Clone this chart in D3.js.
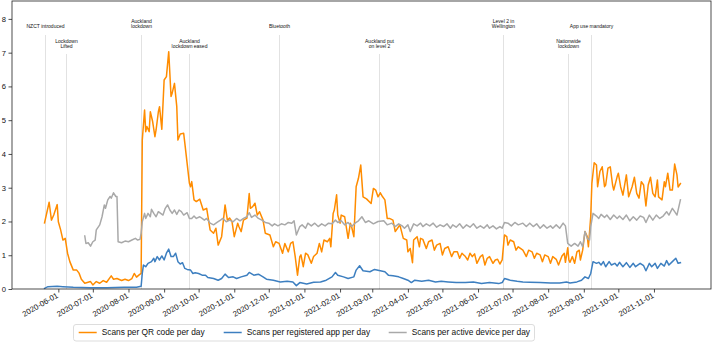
<!DOCTYPE html>
<html>
<head>
<meta charset="utf-8">
<script src="https://cdn.jsdelivr.net/npm/d3@7"></script>
<style>
  html, body { margin: 0; padding: 0; background: #fff; }
  svg { display: block; font-family: "Liberation Sans", Arial, Helvetica, sans-serif; }
</style>
</head>
<body>
<svg id="chart" width="714" height="342"></svg>
<script>
// days counted from 2020-05-20 (NZ COVID Tracer launch)
const startDate = Date.UTC(2020, 4, 20);

const qrCode = [[0,1.96],[4,2.57],[6,2.04],[8,2.19],[11,2.50],[12,1.99],[14,1.75],[16,1.45],[18,1.50],[20,1.06],[22,0.81],[25,0.56],[28,0.56],[30,0.47],[32,0.29],[35,0.17],[40,0.22],[42,0.12],[45,0.22],[48,0.17],[51,0.25],[54,0.20],[58,0.39],[60,0.29],[63,0.31],[67,0.25],[70,0.29],[73,0.25],[76,0.31],[78,0.46],[80,0.35],[82,0.41],[84,0.46],[85,4.41],[87,5.30],[88,4.66],[89,4.81],[91,4.66],[92,5.25],[94,4.96],[96,4.51],[97,4.71],[99,5.25],[100,5.40],[102,4.73],[104,6.19],[106,6.29],[108,7.03],[110,5.70],[111,5.80],[113,6.09],[115,5.40],[116,4.41],[118,4.59],[121,4.61],[122,4.32],[124,3.72],[126,3.13],[127,3.03],[128,3.18],[130,2.64],[132,2.59],[135,2.66],[138,2.34],[141,2.39],[144,1.75],[147,1.65],[149,1.80],[151,1.30],[154,1.55],[157,2.49],[159,2.04],[161,2.10],[163,2.00],[165,1.55],[168,1.95],[169,1.85],[171,1.70],[173,2.04],[176,2.10],[178,2.83],[179,2.39],[181,2.44],[183,2.54],[185,2.19],[187,2.29],[190,2.04],[192,1.65],[196,1.60],[199,1.25],[201,1.40],[204,1.35],[207,1.06],[209,1.35],[212,1.10],[214,1.35],[216,1.40],[218,0.96],[220,0.41],[222,0.96],[223,1.01],[225,0.66],[227,1.06],[229,1.01],[232,0.76],[234,0.96],[237,1.06],[239,1.35],[241,1.10],[243,1.45],[246,1.40],[248,1.50],[249,1.25],[251,2.24],[252,2.34],[254,2.79],[255,2.19],[257,1.95],[258,2.19],[261,2.14],[264,1.50],[266,1.95],[267,1.85],[269,1.55],[271,3.03],[273,3.28],[275,3.67],[277,2.73],[280,2.67],[284,2.53],[286,2.98],[288,2.93],[290,2.73],[292,2.85],[294,2.73],[296,2.64],[298,2.09],[300,2.09],[303,2.04],[305,1.70],[307,1.80],[309,1.90],[312,1.50],[315,1.45],[316,1.10],[318,1.20],[320,0.78],[321,1.45],[324,1.55],[326,1.25],[327,1.50],[329,1.47],[332,1.20],[334,1.40],[337,1.45],[339,1.15],[341,1.30],[344,1.35],[346,1.01],[348,1.20],[351,1.25],[354,0.96],[356,1.10],[359,1.10],[361,0.91],[363,1.06],[366,0.96],[368,0.86],[370,1.06],[372,0.96],[374,1.04],[376,0.76],[379,0.96],[381,1.01],[383,0.71],[385,0.91],[387,0.96],[390,0.76],[392,0.86],[394,0.88],[396,0.74],[398,0.86],[400,1.60],[402,1.55],[403,1.30],[405,1.45],[408,1.40],[410,1.15],[412,1.25],[416,1.15],[419,0.96],[421,1.15],[424,1.10],[426,0.91],[428,1.06],[431,1.01],[433,0.81],[435,1.01],[438,0.96],[440,0.76],[442,0.96],[445,0.88],[447,0.71],[450,0.98],[452,1.06],[453,0.79],[455,1.22],[456,0.86],[457,0.79],[459,0.96],[461,0.76],[463,1.10],[465,1.15],[466,0.86],[468,1.15],[470,1.70],[472,1.55],[473,1.25],[475,2.14],[476,3.13],[478,3.74],[480,3.67],[481,3.03],[483,3.48],[485,3.62],[487,3.03],[488,3.08],[490,3.58],[492,3.62],[494,3.08],[495,2.93],[498,3.33],[499,3.43],[501,3.03],[503,2.78],[506,3.38],[508,2.73],[511,3.03],[513,3.31],[515,2.83],[517,2.69],[519,3.18],[521,3.08],[523,2.46],[525,3.08],[527,3.31],[529,2.83],[531,2.73],[533,3.23],[534,2.73],[537,2.64],[539,3.18],[540,3.03],[542,3.43],[544,2.93],[546,2.93],[548,3.70],[550,3.38],[551,3.02],[553,3.12]];

const registeredApp = [[0,0.02],[3,0.07],[11,0.08],[16,0.07],[25,0.05],[40,0.04],[54,0.04],[69,0.05],[80,0.05],[84,0.08],[85,0.46],[86,0.71],[88,0.66],[90,0.76],[93,0.81],[95,0.91],[96,0.81],[98,0.96],[100,0.86],[102,0.98],[104,0.86],[106,1.06],[108,1.18],[110,0.96],[112,0.96],[114,1.06],[116,0.81],[118,0.74],[120,0.78],[122,0.61],[124,0.58],[127,0.56],[129,0.46],[131,0.48],[134,0.46],[137,0.41],[140,0.41],[142,0.34],[147,0.31],[151,0.26],[154,0.31],[157,0.44],[160,0.34],[164,0.36],[167,0.31],[171,0.36],[176,0.41],[178,0.49],[182,0.41],[186,0.44],[190,0.36],[193,0.29],[199,0.26],[205,0.21],[211,0.23],[216,0.21],[219,0.10],[222,0.19],[228,0.15],[234,0.20],[240,0.21],[245,0.26],[250,0.36],[253,0.49],[255,0.41],[260,0.36],[264,0.31],[269,0.36],[271,0.56],[274,0.69],[277,0.54],[283,0.51],[287,0.58],[292,0.54],[296,0.51],[299,0.41],[303,0.39],[308,0.36],[312,0.31],[316,0.26],[319,0.19],[322,0.26],[328,0.23],[334,0.26],[340,0.21],[345,0.23],[351,0.21],[358,0.19],[366,0.19],[373,0.21],[380,0.16],[387,0.19],[395,0.16],[398,0.19],[400,0.31],[405,0.26],[411,0.23],[416,0.21],[422,0.20],[431,0.19],[440,0.18],[448,0.18],[454,0.21],[457,0.18],[463,0.21],[467,0.26],[470,0.36],[473,0.31],[475,0.46],[477,0.81],[480,0.76],[482,0.79],[484,0.71],[486,0.81],[488,0.66],[491,0.81],[493,0.71],[496,0.76],[498,0.68],[500,0.79],[503,0.66],[506,0.78],[509,0.64],[512,0.76],[514,0.66],[518,0.76],[521,0.69],[523,0.54],[526,0.76],[528,0.66],[531,0.76],[533,0.61],[536,0.76],[539,0.68],[541,0.84],[543,0.71],[546,0.81],[549,0.91],[551,0.76],[553,0.78]];

const activeDevice = [[35,1.57],[36,1.35],[38,1.37],[40,1.27],[42,1.40],[44,1.45],[45,1.75],[48,1.90],[50,2.14],[52,2.49],[53,2.39],[55,2.64],[57,2.74],[58,2.69],[60,2.85],[62,2.74],[63,2.74],[64,1.40],[67,1.37],[70,1.42],[73,1.40],[76,1.45],[79,1.50],[81,1.45],[83,1.47],[84,1.65],[85,1.99],[87,2.24],[88,2.09],[90,2.24],[92,2.14],[93,2.36],[95,2.24],[97,2.14],[99,2.29],[101,2.24],[103,2.19],[105,2.39],[107,2.49],[109,2.34],[111,2.24],[113,2.34],[115,2.21],[117,2.34],[119,2.29],[121,2.19],[124,2.26],[126,2.09],[128,2.09],[130,2.16],[132,2.09],[135,2.14],[137,2.09],[139,2.04],[141,2.09],[144,1.95],[147,1.90],[150,1.97],[153,2.04],[155,2.09],[158,1.99],[161,2.04],[164,1.99],[167,2.09],[170,2.02],[173,2.09],[176,2.14],[178,2.26],[180,2.12],[183,2.19],[186,2.09],[189,2.04],[192,1.97],[195,1.95],[198,1.87],[200,1.93],[203,1.87],[206,1.93],[209,1.90],[212,1.97],[215,1.95],[217,2.02],[219,1.60],[222,1.85],[224,1.90],[227,1.80],[229,1.95],[232,1.87],[235,1.95],[238,1.85],[241,1.93],[244,1.87],[247,1.95],[250,1.93],[253,2.04],[255,1.97],[258,2.02],[261,1.90],[264,1.97],[267,1.85],[270,1.95],[273,2.02],[276,2.14],[279,1.97],[282,2.02],[286,1.93],[290,2.00],[295,2.02],[298,1.90],[302,1.95],[305,1.85],[308,1.93],[311,1.87],[313,1.80],[316,1.90],[318,1.70],[321,1.93],[324,1.87],[327,1.95],[329,1.85],[332,1.93],[335,1.87],[338,1.95],[341,1.83],[344,1.90],[347,1.85],[350,1.93],[353,1.80],[355,1.90],[358,1.83],[361,1.93],[364,1.80],[367,1.90],[370,1.83],[373,1.93],[376,1.80],[379,1.87],[382,1.80],[385,1.90],[387,1.80],[390,1.87],[393,1.78],[396,1.85],[398,1.80],[400,1.97],[403,1.95],[406,1.87],[409,1.97],[412,1.90],[416,1.95],[419,1.85],[422,1.95],[425,1.85],[428,1.93],[431,1.80],[434,1.90],[437,1.80],[440,1.87],[442,1.80],[445,1.90],[448,1.80],[451,1.95],[453,1.87],[455,1.35],[458,1.27],[461,1.35],[464,1.27],[466,1.40],[468,1.25],[470,1.70],[472,1.50],[474,1.45],[475,1.85],[477,2.24],[480,2.16],[482,2.09],[484,2.21],[487,2.12],[489,2.19],[492,2.06],[495,2.19],[498,2.09],[500,2.16],[503,2.06],[506,2.19],[509,2.02],[512,2.14],[515,2.04],[518,2.16],[521,2.12],[523,1.97],[526,2.19],[529,2.04],[532,2.19],[535,2.09],[538,2.16],[541,2.29],[543,2.19],[546,2.39],[548,2.29],[550,2.19],[553,2.64]];

const eventDates = ["2020-05-20", "2020-06-08", "2020-08-12", "2020-09-23", "2020-12-10",
                    "2021-03-07", "2021-06-23", "2021-08-18", "2021-09-07"];
const eventLabels = [["NZCT introduced"], ["Lockdown", "Lifted"], ["Auckland", "lockdown"],
                     ["Auckland", "lockdown eased"], ["Bluetooth"], ["Auckland put", "on level 2"],
                     ["Level 2 in", "Wellington"], ["Nationwide", "lockdown"], ["App use mandatory"]];

const seriesNames = ["Scans per QR code per day", "Scans per registered app per day", "Scans per active device per day"];
const seriesColors = ["#ff8c00", "#3d7fc0", "#a9a9a9"];
const yTicks = [0, 1, 2, 3, 4, 5, 6, 7, 8];
const xTickDates = ["2020-06-01", "2020-07-01", "2020-08-01", "2020-09-01", "2020-10-01", "2020-11-01",
                    "2020-12-01", "2021-01-01", "2021-02-01", "2021-03-01", "2021-04-01", "2021-05-01",
                    "2021-06-01", "2021-07-01", "2021-08-01", "2021-09-01", "2021-10-01", "2021-11-01"];

const dayToDate = d => new Date(startDate + d * 864e5);
const parse = d3.utcParse("%Y-%m-%d");

const svg = d3.select("#chart");
const plotLeft = 12, plotRight = 711, plotTop = 1, plotBottom = 289;

const x = d3.scaleUtc()
  .domain([dayToDate(-28.3), dayToDate(579.6)])
  .range([plotLeft, plotRight]);
const y = d3.scaleLinear()
  .domain([0, 8.53])
  .range([plotBottom, plotTop]);

// event markers
const ev = svg.append("g");
eventDates.forEach((ds, i) => {
  const ex = Math.round(x(parse(ds))) + 0.5;
  const row = i % 2;
  const lineTop = row ? 54 : 35;
  const lastBase = row ? 47.6 : 27.6;
  ev.append("line")
    .attr("x1", ex).attr("x2", ex)
    .attr("y1", lineTop).attr("y2", plotBottom)
    .attr("stroke", "#e2e2e2").attr("stroke-width", 1);
  const lines = eventLabels[i];
  lines.forEach((t, j) => {
    ev.append("text")
      .attr("x", ex)
      .attr("y", lastBase - (lines.length - 1 - j) * 5)
      .attr("text-anchor", "middle")
      .attr("font-size", 5)
      .attr("fill", "#111")
      .text(t);
  });
});

// series
const line = d3.line()
  .x(d => x(dayToDate(d[0])))
  .y(d => y(d[1]));

[qrCode, registeredApp, activeDevice].forEach((s, i) => {
  svg.append("path")
    .datum(s)
    .attr("d", line)
    .attr("fill", "none")
    .attr("stroke", seriesColors[i])
    .attr("stroke-width", 1.5)
    .attr("stroke-linejoin", "round")
    .attr("stroke-linecap", "square");
});

// frame
svg.append("rect")
  .attr("x", plotLeft).attr("y", plotTop)
  .attr("width", plotRight - plotLeft).attr("height", plotBottom - plotTop)
  .attr("fill", "none").attr("stroke", "#222").attr("stroke-width", 0.8);

// y axis
const yAxis = svg.append("g")
  .attr("transform", `translate(${plotLeft},0)`)
  .call(d3.axisLeft(y).tickValues(yTicks).tickSize(3.5).tickPadding(2.5).tickFormat(d3.format("d")));
yAxis.select(".domain").remove();
yAxis.selectAll(".tick line").attr("stroke", "#222").attr("stroke-width", 0.8);
yAxis.selectAll("text").attr("font-size", 7.6).attr("fill", "#111").attr("font-family", null);

// x axis
const xAxis = svg.append("g")
  .attr("transform", `translate(0,${plotBottom})`)
  .call(d3.axisBottom(x).tickValues(xTickDates.map(parse)).tickSize(3.5).tickFormat(d3.utcFormat("%Y-%m-%d")));
xAxis.select(".domain").remove();
xAxis.selectAll(".tick line").attr("stroke", "#222").attr("stroke-width", 0.8);
xAxis.selectAll("text")
  .attr("font-size", 7.8)
  .attr("fill", "#111")
  .attr("font-family", null)
  .attr("text-anchor", "end")
  .attr("y", 0).attr("dy", null)
  .attr("transform", "translate(0,8) rotate(-30)");

// legend
const lg = svg.append("g");
lg.append("rect")
  .attr("x", 73.5).attr("y", 324.5)
  .attr("width", 461).attr("height", 16.5)
  .attr("rx", 2.5)
  .attr("fill", "#fff").attr("stroke", "#d4d4d4").attr("stroke-width", 0.8);
const textX = [101.7, 246.7, 411.7];
seriesNames.forEach((n, i) => {
  lg.append("line")
    .attr("x1", textX[i] - 23).attr("x2", textX[i] - 5)
    .attr("y1", 332.5).attr("y2", 332.5)
    .attr("stroke", seriesColors[i]).attr("stroke-width", 1.5);
  lg.append("text")
    .attr("x", textX[i]).attr("y", 332.5).attr("dy", "0.35em")
    .attr("font-size", 8.35).attr("fill", "#111")
    .text(n);
});
</script>
</body>
</html>
